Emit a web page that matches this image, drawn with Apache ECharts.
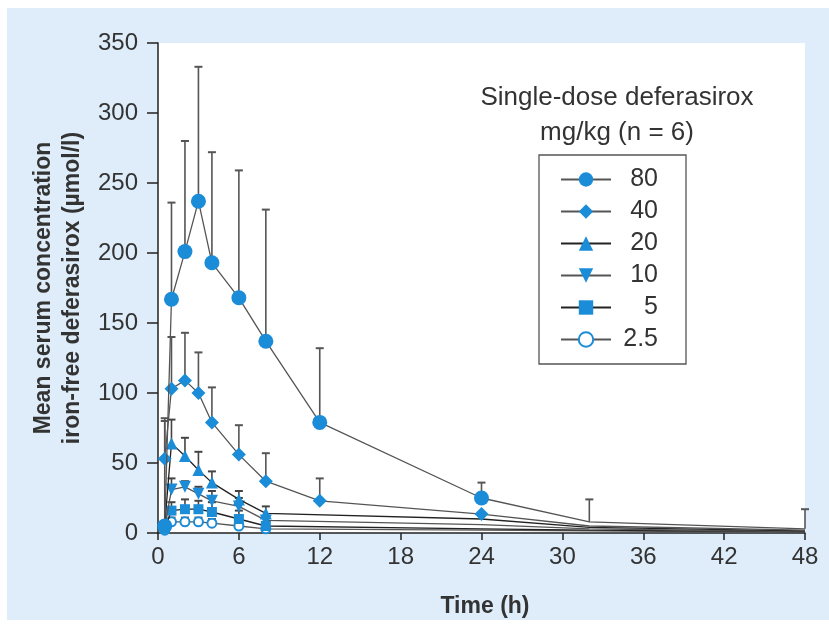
<!DOCTYPE html>
<html>
<head>
<meta charset="utf-8">
<title>Single-dose deferasirox</title>
<script src="https://cdn.jsdelivr.net/npm/echarts@6/dist/echarts.min.js"></script>
<style>
html, body { margin: 0; padding: 0; background: #fff; }
#main { width: 829px; height: 638px; }
</style>
</head>
<body>
<div id="main"></div>
<script>
// sampling times (h)
var times = [0.5, 1, 2, 3, 4, 6, 8, 12, 24, 32, 48];
var xTicks = [0, 6, 12, 18, 24, 30, 36, 42, 48];
var yTicks = [0, 50, 100, 150, 200, 250, 300, 350];

// mean concentrations, umol/l (null = not sampled)
var mean80  = [5, 167, 201, 237, 193, 168, 137, 79, 25, 8, 3];
var mean40  = [53, 103, 109, 100, 79, 56, 37, 23, 13.5, 5, 2];
var mean20  = [6, 64, 55, 45, 36, 24, 14, null, 10, 4, 1.5];
var mean10  = [4, 31, 33, 28, 23, 19, 9, null, 6, 3, 1];
var mean5   = [3, 16, 17, 17, 15, 10, 5, null, 3, 2, 1];
var mean2p5 = [2, 8, 8, 8, 7, 5, 3, null, 2, 1.5, 0.5];

// standard deviations (upper bars only)
var sd80  = [77, 69, 79, 96, 79, 91, 94, 53, 11, 16, 14];
var sd40  = [27, 37, 34, 29, 25, 21, 20, 16, 0, 0, 0];
var sd20  = [0, 17, 13, 13, 8, 6, 5, 0, 0, 0, 0];
var sd10  = [0, 8, 4, 5, 7, 6, 3, 0, 0, 0, 0];
var sd5   = [0, 6, 7, 6, 7, 6, 3, 0, 0, 0, 0];
var sd2p5 = [0, 3, 3, 3, 3, 2, 0, 0, 0, 0, 0];

var doseNames = ['80', '40', '20', '10', '5', '2.5'];

var blue = '#1a8cd8';
var font = "'Liberation Sans', Arial, sans-serif";

// series look: symbol, size, line colour, last index with a visible marker
var looks = [
    { mean: mean80,  sd: sd80,  symbol: 'circle',      size: 15, rot: 0,   line: '#555', bar: '#555', last: 8 },
    { mean: mean40,  sd: sd40,  symbol: 'diamond',     size: 14, rot: 0,   line: '#555', bar: '#555', last: 8 },
    { mean: mean20,  sd: sd20,  symbol: 'triangle',    size: 12, rot: 0,   line: '#222', bar: '#444', last: 6 },
    { mean: mean10,  sd: sd10,  symbol: 'triangle',    size: 12, rot: 180, line: '#555', bar: '#444', last: 6 },
    { mean: mean5,   sd: sd5,   symbol: 'rect',        size: 10, rot: 0,   line: '#222', bar: '#444', last: 6 },
    { mean: mean2p5, sd: sd2p5, symbol: 'emptyCircle', size: 9,  rot: 0,   line: '#555', bar: '#555', last: 6 }
];

function errRender(color) {
    return function (params, api) {
        var x = api.value(0), m = api.value(1), s = api.value(2);
        var p0 = api.coord([x, m]);
        var p1 = api.coord([x, m + s]);
        return {
            type: 'group',
            children: [
                { type: 'line', shape: { x1: p0[0], y1: p0[1], x2: p1[0], y2: p1[1] },
                  style: { stroke: color, lineWidth: 1.6 } },
                { type: 'line', shape: { x1: p1[0] - 4, y1: p1[1], x2: p1[0] + 4, y2: p1[1] },
                  style: { stroke: color, lineWidth: 2 } }
            ]
        };
    };
}

var series = [];
looks.forEach(function (lk, k) {
    var pts = [], bars = [];
    for (var i = 0; i < times.length; i++) {
        if (lk.mean[i] === null) {
            pts.push({ value: [times[i], null] });
            continue;
        }
        var item = { value: [times[i], lk.mean[i]] };
        if (i > lk.last) item.symbol = 'none';
        pts.push(item);
        if (lk.sd[i] > 0) bars.push([times[i], lk.mean[i], lk.sd[i]]);
    }
    series.push({
        name: 'err' + doseNames[k],
        type: 'custom',
        renderItem: errRender(lk.bar),
        data: bars,
        z: 1,
        silent: true
    });
    series.push({
        name: doseNames[k],
        type: 'line',
        data: pts,
        connectNulls: true,
        symbol: lk.symbol,
        symbolSize: lk.size,
        symbolRotate: lk.rot,
        showAllSymbol: true,
        lineStyle: { color: lk.line, width: 1.3 },
        itemStyle: { color: blue, borderColor: blue, borderWidth: lk.symbol === 'emptyCircle' ? 1.5 : 0 },
        z: 3 + (5 - k),
        animation: false
    });
});

var myChart = echarts.init(document.getElementById('main'));
var option = {
    backgroundColor: '#fff',
    animation: false,
    textStyle: { fontFamily: font },
    graphic: [
        { type: 'rect', z: -10, shape: { x: 7, y: 8, width: 822, height: 612 },
          style: { fill: '#deedf9' } },
        { type: 'text', x: 485, y: 607,
          style: { text: 'Time (h)', font: 'bold 23px ' + font, fill: '#333',
                   textAlign: 'center', textVerticalAlign: 'middle' } }
    ],
    title: {
        text: 'Single-dose deferasirox\nmg/kg (n = 6)',
        left: 612,
        top: 75,
        textAlign: 'center',
        textStyle: { fontFamily: font, fontSize: 26, fontWeight: 'normal', color: '#333', lineHeight: 35 }
    },
    legend: {
        data: doseNames,
        orient: 'vertical',
        left: 539,
        top: 155,
        padding: [12, 28, 12, 21],
        itemWidth: 50,
        itemHeight: 18,
        itemGap: 7,
        borderColor: '#555',
        borderWidth: 1.3,
        backgroundColor: '#fff',
        formatter: function (name) { return '{n|' + name + '}'; },
        textStyle: {
            color: '#333', fontFamily: font, fontSize: 25, lineHeight: 25,
            rich: { n: { width: 42, align: 'right', fontSize: 25, lineHeight: 25, fontFamily: font, color: '#333' } }
        }
    },
    grid: {
        left: 158, right: 24, top: 43, bottom: 105,
        show: true, backgroundColor: '#fff', borderWidth: 0
    },
    xAxis: {
        type: 'value',
        min: xTicks[0], max: xTicks[xTicks.length - 1], interval: 6,
        splitLine: { show: false },
        axisLine: { lineStyle: { color: '#222', width: 1.5 } },
        axisTick: { length: 7, lineStyle: { color: '#222', width: 1.5 } },
        axisLabel: { color: '#333', fontSize: 24, fontFamily: font, margin: 12 }
    },
    yAxis: {
        type: 'value',
        min: yTicks[0], max: yTicks[yTicks.length - 1], interval: 50,
        splitLine: { show: false },
        axisLine: { show: true, lineStyle: { color: '#222', width: 1.5 } },
        axisTick: { show: true, length: 11, lineStyle: { color: '#222', width: 1.5 } },
        axisLabel: { color: '#333', fontSize: 24, fontFamily: font, margin: 20 },
        name: 'Mean serum concentration\niron-free deferasirox (µmol/l)',
        nameLocation: 'middle',
        nameGap: 70,
        nameTextStyle: { fontFamily: font, fontSize: 23, fontWeight: 'bold', color: '#333', lineHeight: 29 }
    },
    series: series
};
myChart.setOption(option);
</script>
</body>
</html>
